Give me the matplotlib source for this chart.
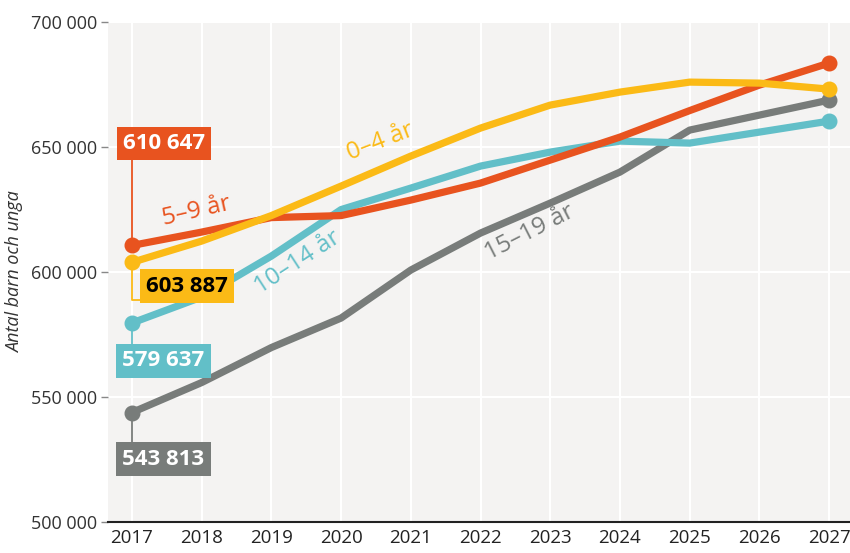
import matplotlib.pyplot as plt

plt.rcParams['font.family'] = ['Open Sans', 'DejaVu Sans']

# Data
years = [2017, 2018, 2019, 2020, 2021, 2022, 2023, 2024, 2025, 2026, 2027]
age_0_4 = [603887, 612400, 622600, 634400, 646400, 657600, 666800, 672000, 676000, 675600, 673200]
age_5_9 = [610647, 616000, 621800, 622600, 628800, 635600, 644800, 654000, 664600, 674800, 683600]
age_10_14 = [579637, 590000, 606400, 625000, 633600, 642400, 648000, 652400, 651600, 656000, 660400]
age_15_19 = [543813, 555800, 569800, 581600, 600800, 615600, 627600, 640000, 656800, 662800, 668800]
series_names = ['0–4 år', '5–9 år', '10–14 år', '15–19 år']
y_ticks = [500000, 550000, 600000, 650000, 700000]

COLORS = {
    '0–4 år': '#fbba16',
    '5–9 år': '#e8531f',
    '10–14 år': '#62bfc8',
    '15–19 år': '#787c7a',
}

fig = plt.figure(figsize=(8.5, 5.53), dpi=100)
ax = fig.add_axes([0.127, 0.056, 0.873, 0.904])
ax.set_facecolor('#f4f3f2')

data = {'0–4 år': age_0_4, '5–9 år': age_5_9, '10–14 år': age_10_14, '15–19 år': age_15_19}
order = ['15–19 år', '10–14 år', '5–9 år', '0–4 år']
for name in order:
    vals = data[name]
    c = COLORS[name]
    ax.plot(years, vals, color=c, linewidth=5.2, solid_capstyle='round', zorder=3)
    ax.plot([years[0], years[-1]], [vals[0], vals[-1]], 'o', color=c, markersize=10.5, zorder=4)

ax.set_xlim(2016.656, 2027.3)
ax.set_ylim(500000, 700000)
ax.set_xticks(years)
ax.set_yticks(y_ticks)
ax.set_yticklabels([f'{v:,}'.replace(',', ' ') for v in y_ticks])
ax.grid(True, color='white', linewidth=1.5, zorder=0)
ax.set_axisbelow(True)

for s in ['top', 'right', 'left']:
    ax.spines[s].set_visible(False)
ax.spines['bottom'].set_color('#222222')
ax.spines['bottom'].set_linewidth(1.5)
ax.tick_params(axis='x', length=0, labelsize=13.5, colors='#222222', pad=5)
ax.tick_params(axis='y', length=5, width=1, color='#888888', labelsize=13, labelcolor='#333333', pad=3)
ax.set_ylabel('Antal barn och unga', fontsize=13, style='italic', color='#333333', labelpad=5)

# start-value boxes
def start_box(name, dx, dy, txt_color, conn_y=None, conn_x=None):
    v0 = data[name][0]
    c = COLORS[name]
    bx, by = years[0] + dx, v0 + dy
    ax.text(bx, by, f'{v0:,}'.replace(',', ' '), ha='center', va='center',
            fontsize=16, fontweight='bold', color=txt_color, zorder=6,
            bbox=dict(boxstyle='square,pad=0.28', fc=c, ec='none'))
    if conn_x is None:
        ax.plot([years[0], years[0]], [v0, conn_y], color=c, linewidth=1.3, zorder=2)
    else:
        ax.plot([years[0], years[0], conn_x], [v0, conn_y, conn_y], color=c, linewidth=1.3, zorder=2)

start_box('5–9 år', 0.46, 40800, 'white', conn_y=645000)
start_box('0–4 år', 0.79, -9500, 'black', conn_y=588800, conn_x=2017.2)
start_box('10–14 år', 0.45, -15200, 'white', conn_y=571000)
start_box('15–19 år', 0.45, -18600, 'white', conn_y=532000)

# series labels along the lines
labels = [
    ('0–4 år', 2020.57, 652000, 21),
    ('5–9 år', 2017.93, 624400, 13),
    ('10–14 år', 2019.37, 604000, 33),
    ('15–19 år', 2022.71, 616000, 27),
]
for name, lx, ly, rot in labels:
    ax.text(lx, ly, name, color=COLORS[name], fontsize=17.5, rotation=rot,
            ha='center', va='center', rotation_mode='anchor', zorder=5)

fig.savefig('out.png', dpi=100)
